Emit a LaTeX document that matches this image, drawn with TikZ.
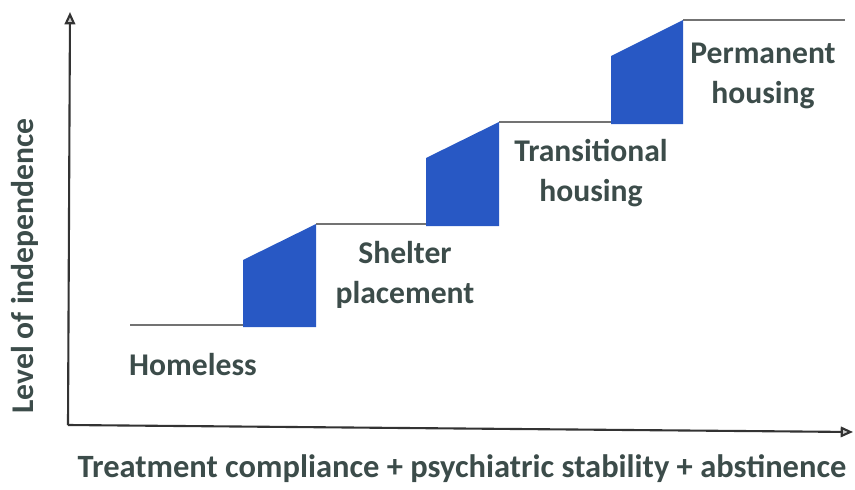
\documentclass[tikz,border=0pt]{standalone}
\usepackage{fontspec}
\setmainfont{Carlito}
\usetikzlibrary{positioning, arrows.meta}
\definecolor{stepblue}{RGB}{40,88,196}
\definecolor{labelgray}{RGB}{60,76,74}
\definecolor{linegray}{RGB}{115,115,115}

\begin{document}
\begin{tikzpicture}[
        x=0.02cm, y=-0.02cm,
        label/.style={font=\bfseries\fontsize{18}{22.5}\selectfont, text=labelgray, align=center, inner sep=0pt},
        axis/.style={-{Triangle[length=7pt, width=6pt, fill=gray!40]}, draw=black!80, line width=1.2pt},
        level/.style={draw=linegray, line width=1.3pt},
        riser/.style={fill=stepblue, draw=none},
    ]
    \useasboundingbox (0,0) rectangle (855,490);

    % ===== Axes =====
    \coordinate (O) at (68,425);
    \coordinate (YTOP) at (70,12);
    \coordinate (XEND) at (853,432);
    \draw[axis] (O) -- (YTOP);
    \draw[axis] (O) -- (XEND);

    \node[label, rotate=90] (YLAB) at (25,266) {Level of independence};
    \node[label, font=\bfseries\fontsize{18.5}{22}\selectfont] (XLAB) at (462,469)
        {Treatment compliance + psychiatric stability + abstinence};

    % ===== Levels =====
    \draw[level] (130,325) -- (243,325);
    \draw[level] (316,224) -- (426,224);
    \draw[level] (499,122) -- (611,122);
    \draw[level] (683,20) -- (845,20);

    % ===== Risers =====
    \fill[riser] (243,327) -- (243,260) -- (316,224) -- (316,327) -- cycle;
    \fill[riser] (426,226) -- (426,158) -- (499,122) -- (499,226) -- cycle;
    \fill[riser] (611,124) -- (611,56) -- (683,20) -- (683,124) -- cycle;

    % ===== Stage labels =====
    \node[label] (HOMELESS) at (193,365) {Homeless};
    \node[label] (SHELTER) at (405,275) {Shelter\\placement};
    \node[label] (TRANS) at (591,173) {Transitional\\housing};
    \node[label] (PERM) at (763,76) {Permanent\\housing};

\end{tikzpicture}
\end{document}
